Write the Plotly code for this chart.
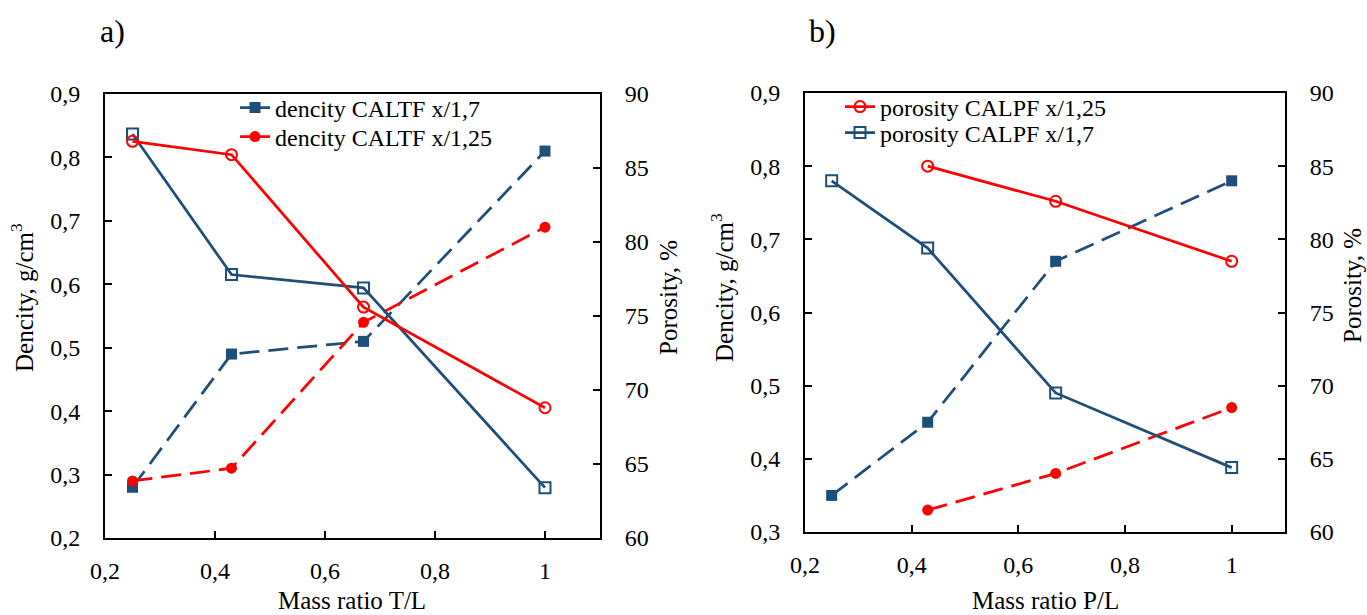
import plotly.graph_objects as go

# ---------------- data ----------------
x_tl = [0.25, 0.43, 0.67, 1.0]
dens_caltf_17 = [0.28, 0.49, 0.51, 0.81]
dens_caltf_125 = [0.29, 0.31, 0.54, 0.69]
por_caltf_17 = [87.3, 77.8, 76.9, 63.4]
por_caltf_125 = [86.8, 85.9, 75.6, 68.8]

x_pl_17 = [0.25, 0.43, 0.67, 1.0]
x_pl_125 = [0.43, 0.67, 1.0]
dens_calpf_17 = [0.35, 0.45, 0.67, 0.78]
dens_calpf_125 = [0.33, 0.38, 0.47]
por_calpf_17 = [84.0, 79.4, 69.5, 64.4]
por_calpf_125 = [85.0, 82.6, 78.5]

x_ticks = [0.2, 0.4, 0.6, 0.8, 1.0]

BLUE = "#1F4E79"
RED = "#FF0000"
FONT = "Liberation Serif"
DASH = "20px,9px"
FS = 24
LW = 2.75
MS = 11

fig = go.Figure()

# ---- panel a ----
fig.add_trace(go.Scatter(x=x_tl, y=dens_caltf_17, mode="lines+markers", xaxis="x", yaxis="y",
                         line=dict(color=BLUE, width=LW, dash=DASH),
                         marker=dict(symbol="square", size=MS, color=BLUE), showlegend=False))
fig.add_trace(go.Scatter(x=x_tl, y=dens_caltf_125, mode="lines+markers", xaxis="x", yaxis="y",
                         line=dict(color=RED, width=LW, dash=DASH),
                         marker=dict(symbol="circle", size=MS, color=RED), showlegend=False))
fig.add_trace(go.Scatter(x=x_tl, y=por_caltf_17, mode="lines+markers", xaxis="x", yaxis="y2",
                         line=dict(color=BLUE, width=LW),
                         marker=dict(symbol="square-open", size=MS, color=BLUE, line=dict(width=2)),
                         showlegend=False))
fig.add_trace(go.Scatter(x=x_tl, y=por_caltf_125, mode="lines+markers", xaxis="x", yaxis="y2",
                         line=dict(color=RED, width=LW),
                         marker=dict(symbol="circle-open", size=MS, color=RED, line=dict(width=2)),
                         showlegend=False))
# legend keys for panel a (solid line key as in the original)
fig.add_trace(go.Scatter(x=[None], y=[None], mode="lines+markers", xaxis="x", yaxis="y",
                         name="dencity CALTF x/1,7", legend="legend",
                         line=dict(color=BLUE, width=LW),
                         marker=dict(symbol="square", size=MS, color=BLUE)))
fig.add_trace(go.Scatter(x=[None], y=[None], mode="lines+markers", xaxis="x", yaxis="y",
                         name="dencity CALTF x/1,25", legend="legend2",
                         line=dict(color=RED, width=LW),
                         marker=dict(symbol="circle", size=MS, color=RED)))

# ---- panel b ----
fig.add_trace(go.Scatter(x=x_pl_125, y=por_calpf_125, mode="lines+markers", xaxis="x2", yaxis="y4",
                         name="porosity CALPF x/1,25", legend="legend3",
                         line=dict(color=RED, width=LW),
                         marker=dict(symbol="circle-open", size=MS, color=RED, line=dict(width=2))))
fig.add_trace(go.Scatter(x=x_pl_17, y=por_calpf_17, mode="lines+markers", xaxis="x2", yaxis="y4",
                         name="porosity CALPF x/1,7", legend="legend4",
                         line=dict(color=BLUE, width=LW),
                         marker=dict(symbol="square-open", size=MS, color=BLUE, line=dict(width=2))))
fig.add_trace(go.Scatter(x=x_pl_17, y=dens_calpf_17, mode="lines+markers", xaxis="x2", yaxis="y3",
                         line=dict(color=BLUE, width=LW, dash=DASH),
                         marker=dict(symbol="square", size=MS, color=BLUE), showlegend=False))
fig.add_trace(go.Scatter(x=x_pl_125, y=dens_calpf_125, mode="lines+markers", xaxis="x2", yaxis="y3",
                         line=dict(color=RED, width=LW, dash=DASH),
                         marker=dict(symbol="circle", size=MS, color=RED), showlegend=False))

W, H = 1367, 615
axfont = dict(family=FONT, size=FS, color="black")
common = dict(showline=True, linecolor="black", linewidth=2, ticks="inside", ticklen=7,
              tickcolor="black", tickwidth=2, showgrid=False, zeroline=False,
              tickfont=axfont, automargin=False)
ycommon = dict(common, ticklabelstandoff=18)
xcommon = dict(common, ticklabelstandoff=10)

xa_dom = [105 / W, 600 / W]
xb_dom = [805 / W, 1285 / W]
ya_dom = [1 - 538 / H, 1 - 94 / H]
yb_dom = [1 - 532 / H, 1 - 93 / H]


def leg(xpx, ypx):
    return dict(x=xpx / W, y=1 - ypx / H, xanchor="left", yanchor="middle",
                bgcolor="rgba(0,0,0,0)", borderwidth=0,
                font=dict(family=FONT, size=FS, color="black"), itemwidth=30)


fig.update_layout(
    template="none",
    width=W, height=H, margin=dict(l=0, r=0, t=0, b=0, autoexpand=False),
    paper_bgcolor="white", plot_bgcolor="white",
    separators=", ",
    font=dict(family=FONT, color="black"),
    xaxis=dict(domain=xa_dom, anchor="y", range=[0.2, 1.1], tickvals=x_ticks, mirror=True, **xcommon),
    yaxis=dict(domain=ya_dom, anchor="x", range=[0.2, 0.9], dtick=0.1, tickformat=".1f", **ycommon),
    yaxis2=dict(overlaying="y", anchor="x", side="right", range=[60, 90], dtick=5, **ycommon),
    xaxis2=dict(domain=xb_dom, anchor="y3", range=[0.2, 1.1], tickvals=x_ticks, mirror=True, **xcommon),
    yaxis3=dict(domain=yb_dom, anchor="x2", range=[0.3, 0.9], dtick=0.1, tickformat=".1f", **ycommon),
    yaxis4=dict(overlaying="y3", anchor="x2", side="right", range=[60, 90], dtick=5, **ycommon),
    legend=leg(235, 108),
    legend2=leg(235, 137),
    legend3=leg(840, 107),
    legend4=leg(840, 133),
)

ann_font = dict(family=FONT, size=FS + 1, color="black")
annotations = [
    dict(text="a)", x=112 / W, y=1 - 31 / H, font=dict(family=FONT, size=32, color="black")),
    dict(text="b)", x=822 / W, y=1 - 31 / H, font=dict(family=FONT, size=32, color="black")),
    dict(text="Mass ratio T/L", x=352 / W, y=1 - 600 / H, font=ann_font),
    dict(text="Mass ratio P/L", x=1045 / W, y=1 - 600 / H, font=ann_font),
    dict(text="Dencity, g/cm<sup>3</sup>", x=22 / W, y=1 - 298 / H, textangle=-90, font=ann_font),
    dict(text="Porosity, %", x=668 / W, y=1 - 298 / H, textangle=-90, font=ann_font),
    dict(text="Dencity, g/cm<sup>3</sup>", x=722 / W, y=1 - 288 / H, textangle=-90, font=ann_font),
    dict(text="Porosity, %", x=1352 / W, y=1 - 286 / H, textangle=-90, font=ann_font),
]
for a in annotations:
    a.update(xref="paper", yref="paper", showarrow=False, xanchor="center", yanchor="middle")
fig.update_layout(annotations=annotations)

fig.write_html(
    "out.html",
    config={"displayModeBar": False},
    post_script="document.body.style.margin='0';document.body.style.overflow='hidden';",
)
